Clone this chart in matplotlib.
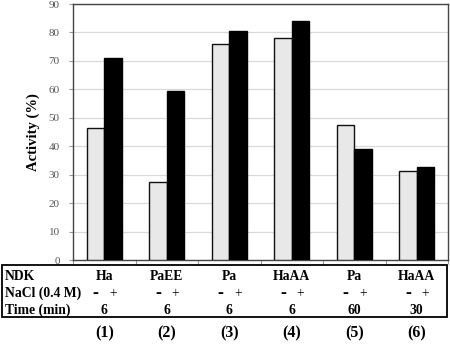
import matplotlib
matplotlib.use("Agg")
import matplotlib.pyplot as plt
import matplotlib.transforms as mtransforms
from matplotlib.patches import Rectangle
import numpy as np

ndk = ["Ha", "PaEE", "Pa", "HaAA", "Pa", "HaAA"]
times = ["6", "6", "6", "6", "60", "30"]
numbers = ["(1)", "(2)", "(3)", "(4)", "(5)", "(6)"]
no_salt = [46.3, 27.3, 76.1, 78.2, 47.6, 31.4]
with_salt = [70.9, 59.5, 80.5, 84.1, 39.1, 32.6]
yticks = [0, 10, 20, 30, 40, 50, 60, 70, 80, 90]

plt.rcParams['font.family'] = ['Liberation Serif', 'DejaVu Serif']

fig = plt.figure(figsize=(4.5, 3.44), dpi=100)
ax = fig.add_axes([73/450, 1-260/344, 375/450, 256/344])

x = np.arange(len(ndk))
w = 0.28
ax.bar(x - w/2, no_salt, w, color="#e8e8e8", edgecolor="#111111", linewidth=1.0, zorder=3)
ax.bar(x + w/2, with_salt, w, color="#000000", edgecolor="#000000", linewidth=1.0, zorder=3)

ax.set_xlim(-0.5, len(ndk) - 0.5)
ax.set_ylim(0, 90)
ax.set_yticks(yticks)
ax.set_yticklabels([str(v) for v in yticks], fontsize=8, color="#555555")
ax.set_xticks(np.arange(len(ndk) + 1) - 0.5)
ax.set_xticklabels([])
ax.tick_params(axis='x', length=3, color="#999999", direction='out')
ax.tick_params(axis='y', length=3, color="#999999", pad=6.5)
ax.yaxis.grid(True, color="#d9d9d9", linewidth=0.9, zorder=0)
for s in ax.spines.values():
    s.set_color("#444444")
    s.set_linewidth(1.0)
ax.set_ylabel("Activity (%)", fontsize=10.5, fontweight='bold', labelpad=6)

# table below
fig.patches.append(Rectangle((2/450, 1-317/344), 445/450, (317-265)/344,
                             transform=fig.transFigure, fill=False,
                             edgecolor="#000000", linewidth=1.3))
trans = mtransforms.blended_transform_factory(ax.transData, fig.transFigure)
y_ndk, y_nacl, y_time, y_num = 1-276/344, 1-293/344, 1-310/344, 1-333/344
y_sign = 1-297.5/344
fs = 9.8
fig.text(5/450, y_ndk, "NDK", fontsize=fs, fontweight='bold', va='center', ha='left')
fig.text(5/450, y_nacl, "NaCl (0.4 M)", fontsize=fs, fontweight='bold', va='center', ha='left')
fig.text(5/450, y_time, "Time (min)", fontsize=fs, fontweight='bold', va='center', ha='left')
for i in range(len(ndk)):
    fig.text(i, y_ndk, ndk[i], transform=trans, fontsize=fs, fontweight='bold', ha='center', va='center')
    fig.text(i - w/2, y_sign, "-", transform=trans, fontsize=13, fontweight='bold', ha='center', va='baseline')
    fig.text(i + w/2, y_sign, "+", transform=trans, fontsize=fs, ha='center', va='baseline')
    fig.text(i, y_time, times[i], transform=trans, fontsize=fs, fontweight='bold', ha='center', va='center')
    fig.text(i, y_num, numbers[i], transform=trans, fontsize=11.5, fontweight='bold', ha='center', va='center')

fig.savefig("out.png", dpi=100)
